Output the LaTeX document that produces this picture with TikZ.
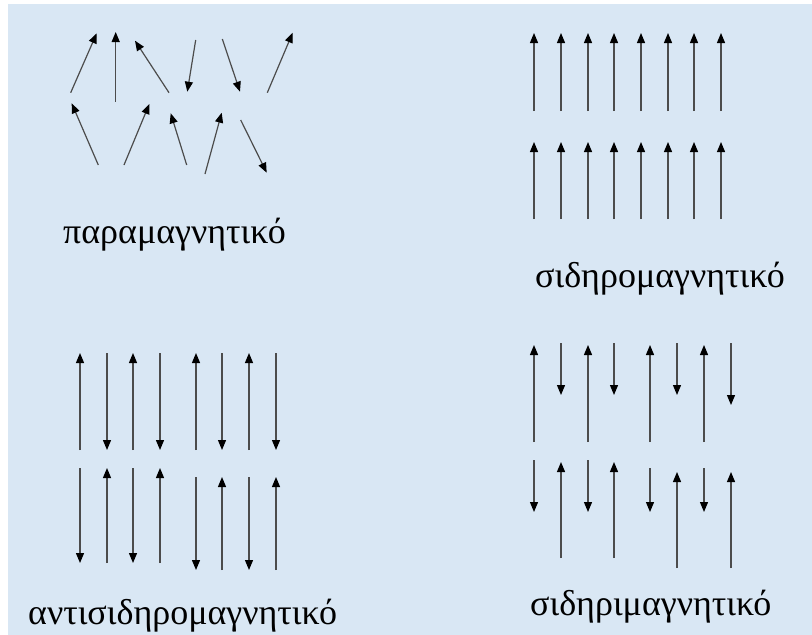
\documentclass[tikz,border=0pt]{standalone}
\usepackage{fontspec}
\setmainfont{Liberation Serif}
\usepackage{tikz}
\usetikzlibrary{arrows.meta}

\definecolor{paper}{HTML}{D9E7F4}

\begin{document}
\begin{tikzpicture}[
  x=1pt,y=-1pt,
  spin/.style={-{Triangle[length=10pt,width=8pt,color=black]},line width=1.2pt,draw=black!70},
  caption/.style={anchor=base west,inner sep=0pt,font=\fontsize{36}{38}\selectfont}
]
\useasboundingbox (0,0) rectangle (812,635);
\fill[white] (0,0) rectangle (812,635);
\fill[paper] (8,4) rectangle (812,635);

% paramagnetic: random orientations
\foreach \ax/\ay/\bx/\by in {70.7/92.7/96.7/33.3, 115.7/101.7/115.7/32, 169/92.7/135/40.7,
  195.7/40/187.3/91.7, 222.3/39/240/91.7, 267.3/92.7/292.7/32.7,
  98.3/165/71.7/103.3, 124/165/149.3/104, 186.7/165/170.7/113.3,
  205/174/221.7/112.7, 240.7/120/266.7/172.7}
  \draw[spin] (\ax,\ay) -- (\bx,\by);
\node[caption] (para) at (63,243) {παραμαγνητικό};

% ferromagnetic: all up
\foreach \x in {534,561,588,614,641,668,694,721} {
  \draw[spin] (\x,111) -- (\x,33);
  \draw[spin] (\x,219) -- (\x,142);
}
\node[caption] (ferro) at (535,287) {σιδηρομαγνητικό};

% antiferromagnetic: alternating, equal length
\foreach \x in {80,133,196,249} {
  \draw[spin] (\x,450) -- (\x,353);
}
\foreach \x in {107,160,222,276} {
  \draw[spin] (\x,353) -- (\x,450);
}
\foreach \x in {80,133} \draw[spin] (\x,468) -- (\x,563);
\foreach \x in {107,160} \draw[spin] (\x,563) -- (\x,468);
\foreach \x in {196,249} \draw[spin] (\x,477) -- (\x,570);
\foreach \x in {222,276} \draw[spin] (\x,570) -- (\x,477);
\node[caption] (antiferro) at (28,624) {αντισιδηρομαγνητικό};

% ferrimagnetic: alternating, unequal length
\foreach \x in {534,588,650,704} \draw[spin] (\x,442) -- (\x,345);
\foreach \x in {561,614,677} \draw[spin] (\x,343) -- (\x,395);
\draw[spin] (731,343) -- (731,405);
\foreach \x in {534,588} \draw[spin] (\x,460) -- (\x,512);
\foreach \x in {650,704} \draw[spin] (\x,468) -- (\x,512);
\foreach \x in {561,614} \draw[spin] (\x,558) -- (\x,462);
\foreach \x in {677,731} \draw[spin] (\x,568) -- (\x,472);
\node[caption] (ferri) at (530,615) {σιδηριμαγνητικό};
\end{tikzpicture}
\end{document}
